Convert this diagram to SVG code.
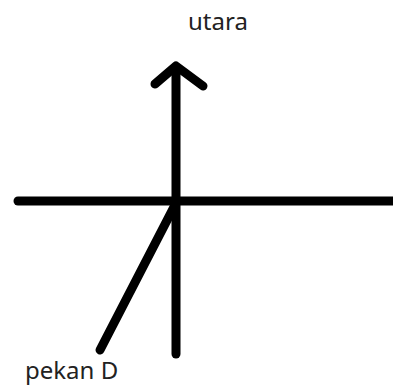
<svg xmlns="http://www.w3.org/2000/svg" width="393" height="387" viewBox="0 0 393 387">
<style>
.ln{stroke:#000;stroke-width:9;stroke-linecap:round;stroke-linejoin:round;fill:none}
.t{font-family:"Noto Sans","Open Sans",sans-serif;font-size:24px;fill:#222}
</style>
<rect width="393" height="387" fill="#fff"/>
<g id="connectors">
<path class="ln" d="M176,354 L176,68"/>
<path class="ln" d="M155,84 L176,66 L203,86"/>
<path class="ln" d="M18,201 L393,201"/>
<path class="ln" d="M176,203 L100,350"/>
</g>
<g id="utara"><text class="t" x="188" y="30">utara</text></g>
<g id="pekanD"><text class="t" x="25" y="379">pekan D</text></g>
</svg>
